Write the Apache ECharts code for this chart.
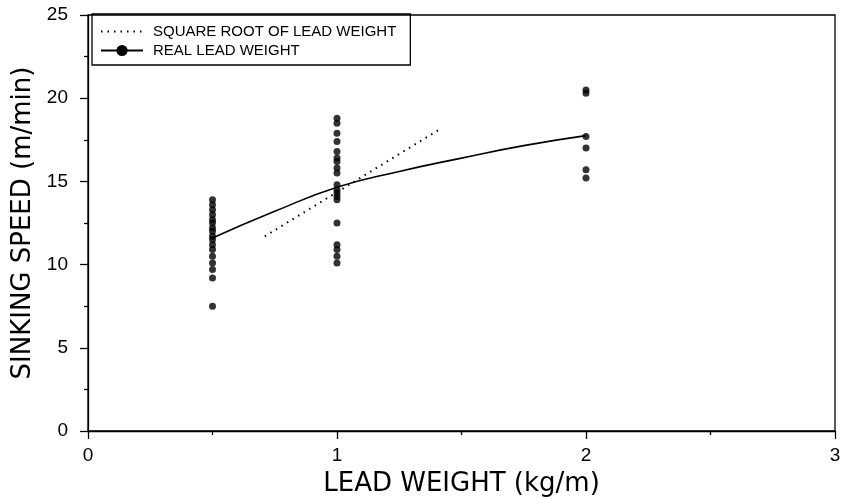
<!DOCTYPE html>
<html>
<head>
<meta charset="utf-8">
<script src="https://cdn.jsdelivr.net/npm/echarts@6/dist/echarts.min.js"></script>
<style>
  html, body { margin: 0; padding: 0; background: #fff; }
  #main { width: 846px; height: 499px; }
</style>
</head>
<body>
<div id="main"></div>
<script>
// data
const xTicks = [0, 1, 2, 3];
const yTicks = [0, 5, 10, 15, 20, 25];

// measured sinking speeds (m/min) at each lead weight (kg/m)
const weights = [0.5, 1, 2];
const speedAt05 = [13.9, 13.6, 13.3, 13.0, 12.7, 12.5, 12.2, 12.0, 11.7, 11.5, 11.2, 10.9, 10.5, 10.1, 9.7, 9.2, 7.5];
const speedAt1 = [18.8, 18.5, 17.9, 17.4, 16.8, 16.4, 16.2, 15.8, 15.5, 14.8, 14.5, 14.3, 14.1, 13.9, 12.5, 11.2, 10.9, 10.5, 10.1];
const speedAt2 = [20.5, 20.3, 17.7, 17.0, 15.7, 15.2];

// fitted curve through the real lead weights
const fitX = [0.5, 0.75, 1, 1.25, 1.5, 1.75, 2];
const fitY = [11.6, 13.2, 14.65, 15.6, 16.4, 17.15, 17.75];

// square root line
const sqrtX = [0.71, 1.42];
const sqrtY = [11.7, 18.2];

const FONT = 'Liberation Sans';
const TITLE_FONT = 'DejaVu Sans';

var measured = [];
[speedAt05, speedAt1, speedAt2].forEach(function (arr, i) {
    arr.forEach(function (v) { measured.push([weights[i], v]); });
});

var chart = echarts.init(document.getElementById('main'));
var option = {
    backgroundColor: '#fff',
    animation: false,
    grid: {
        left: 88, right: 11, top: 15, bottom: 68,
        outerBoundsMode: 'none',
        show: true,
        borderColor: '#000',
        borderWidth: 1.3
    },
    legend: {
        data: [
            { name: 'SQUARE ROOT OF LEAD WEIGHT', itemStyle: { color: 'rgba(0,0,0,0)', borderWidth: 0 } },
            { name: 'REAL LEAD WEIGHT' }
        ],
        orient: 'vertical',
        left: 92, top: 14,
        padding: [10, 14, 7, 8],
        itemWidth: 42, itemHeight: 14, itemGap: 4,
        borderColor: '#000', borderWidth: 1.3, borderRadius: 0,
        textStyle: { fontFamily: FONT, fontSize: 15, color: '#000', padding: [0, 0, 0, 5] }
    },
    xAxis: {
        type: 'value',
        min: xTicks[0], max: xTicks[xTicks.length - 1], interval: 1,
        name: 'LEAD WEIGHT (kg/m)',
        nameLocation: 'middle', nameGap: 40,
        nameTextStyle: { fontFamily: TITLE_FONT, fontSize: 26, color: '#000' },
        axisLine: { lineStyle: { color: '#000', width: 1.3 } },
        axisTick: { show: true, length: 8, lineStyle: { color: '#000', width: 1.3 } },
        minorTick: { show: true, splitNumber: 2, length: 4, lineStyle: { color: '#000', width: 1.3 } },
        axisLabel: { fontFamily: FONT, fontSize: 19, color: '#000', margin: 15 },
        splitLine: { show: false }
    },
    yAxis: {
        type: 'value',
        min: yTicks[0], max: yTicks[yTicks.length - 1], interval: 5,
        name: 'SINKING SPEED (m/min)',
        nameLocation: 'middle', nameGap: 42,
        nameTextStyle: { fontFamily: TITLE_FONT, fontSize: 26, color: '#000' },
        axisLine: { show: true, lineStyle: { color: '#000', width: 1.3 } },
        axisTick: { show: true, length: 8, lineStyle: { color: '#000', width: 1.3 } },
        minorTick: { show: true, splitNumber: 2, length: 4, lineStyle: { color: '#000', width: 1.3 } },
        axisLabel: { fontFamily: FONT, fontSize: 19, color: '#000', margin: 20 },
        splitLine: { show: false }
    },
    series: [
        {
            name: 'SQUARE ROOT OF LEAD WEIGHT',
            type: 'line',
            symbol: 'none',
            data: sqrtX.map(function (x, i) { return [x, sqrtY[i]]; }),
            lineStyle: { color: '#000', width: 2, type: [1.5, 5] },
            itemStyle: { color: '#000' }
        },
        {
            name: 'REAL LEAD WEIGHT',
            type: 'line',
            symbol: 'circle',
            symbolSize: 9,
            showSymbol: false,
            smooth: true,
            data: fitX.map(function (x, i) { return [x, fitY[i]]; }),
            lineStyle: { color: '#000', width: 1.6 },
            itemStyle: { color: '#000' }
        },
        {
            name: 'measured',
            type: 'scatter',
            symbol: 'circle',
            symbolSize: 7,
            data: measured,
            itemStyle: { color: '#000' }
        }
    ]
};
chart.setOption(option);
</script>
</body>
</html>
